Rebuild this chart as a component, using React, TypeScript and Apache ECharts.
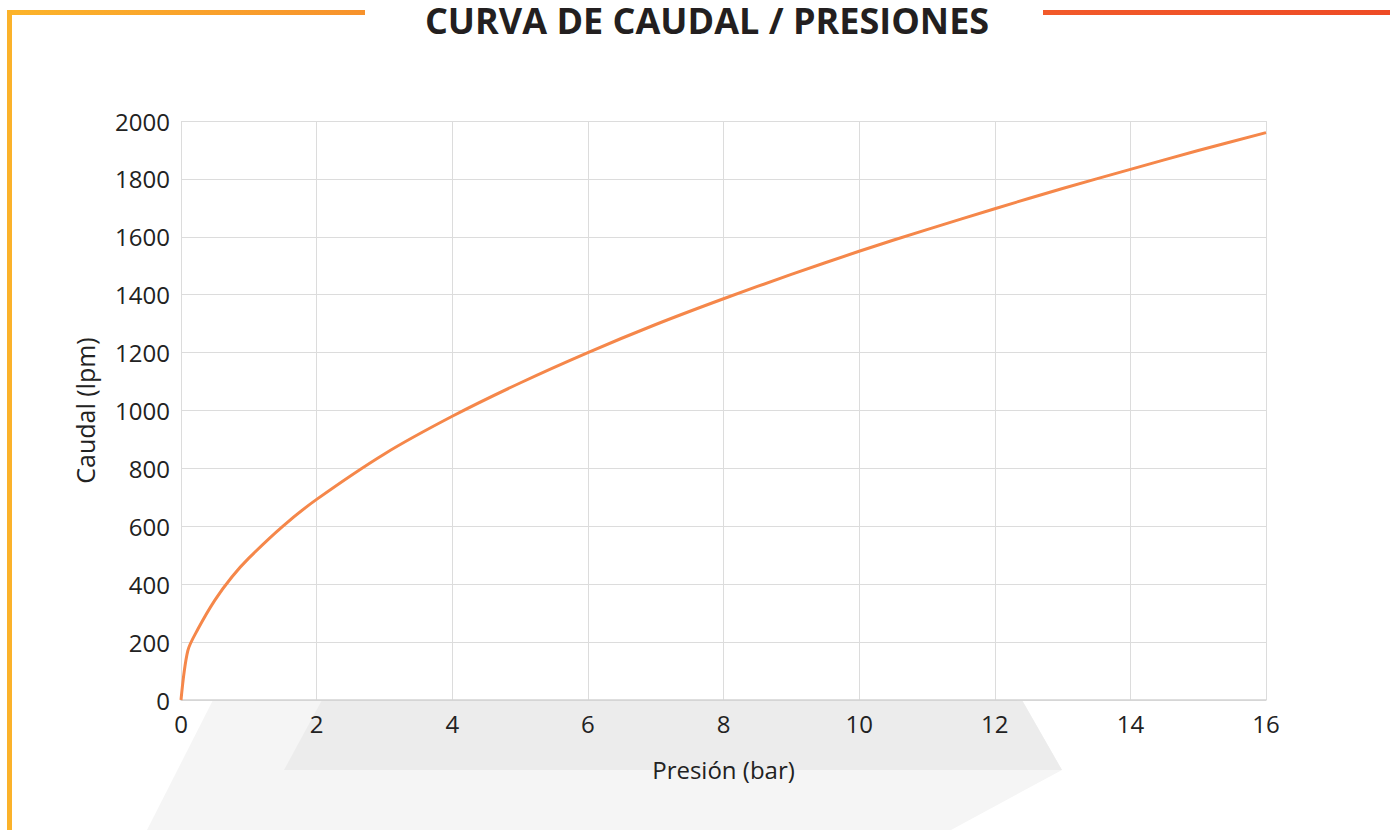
import React, { useEffect, useRef } from "react";
import * as echarts from "echarts";

const titleText = "CURVA DE CAUDAL / PRESIONES";
const xAxisName = "Presión (bar)";
const yAxisName = "Caudal (lpm)";
const pressure = [0, 0.1, 0.25, 0.5, 0.75, 1, 1.5, 2, 3, 4, 5, 6, 7, 8, 9, 10, 11, 12, 13, 14, 15, 16];
const flow = [0, 170, 245, 345, 425, 490, 600, 693, 850, 980, 1095, 1200, 1297, 1386, 1470, 1550, 1625, 1697, 1767, 1833, 1898, 1960];

const FONT = "'Open Sans', 'Noto Sans', sans-serif";

export default function App() {
  const ref = useRef<HTMLDivElement>(null);
  useEffect(() => {
    if (!ref.current) return;
    const chart = echarts.init(ref.current, null, { renderer: "svg" });
    const data = pressure.map((p, i) => [p, flow[i]]);
    chart.setOption({
      animation: false,
      backgroundColor: "#ffffff",
      title: {
        text: titleText,
        left: 707,
        textAlign: "center",
        top: 1,
        padding: 0,
        textStyle: { fontFamily: FONT, fontWeight: "bold", fontSize: 36, lineHeight: 38, color: "#231f20" },
      },
      graphic: [
        {
          type: "polygon",
          z: -10,
          silent: true,
          shape: { points: [[213, 700], [1022, 700], [1062, 770], [951, 830], [147, 830]] },
          style: { fill: "#f5f5f5" },
        },
        {
          type: "polygon",
          z: -9,
          silent: true,
          shape: { points: [[322, 700], [1022, 700], [1062, 770], [284, 770]] },
          style: { fill: "#ececec" },
        },
        {
          type: "rect",
          shape: { x: 7, y: 10, width: 358, height: 5 },
          style: {
            fill: new echarts.graphic.LinearGradient(0, 0, 1, 0, [
              { offset: 0, color: "#fcb42a" },
              { offset: 1, color: "#f7922c" },
            ]),
          },
        },
        {
          type: "rect",
          shape: { x: 7, y: 10, width: 5, height: 820 },
          style: { fill: "#fbb22a" },
        },
        {
          type: "rect",
          shape: { x: 1043, y: 10, width: 347, height: 5 },
          style: {
            fill: new echarts.graphic.LinearGradient(0, 0, 1, 0, [
              { offset: 0, color: "#f25a2a" },
              { offset: 1, color: "#ee4b25" },
            ]),
          },
        },
      ],
      grid: { left: 181, right: 124, top: 121, bottom: 130, containLabel: false },
      xAxis: {
        type: "value",
        min: 0,
        max: 16,
        interval: 2,
        name: xAxisName,
        nameLocation: "middle",
        nameGap: 57,
        nameTextStyle: { fontFamily: FONT, fontSize: 24, color: "#222" },
        axisLine: { show: true, lineStyle: { color: "#d3d3d3", width: 1.5 } },
        axisTick: { show: false },
        axisLabel: { fontFamily: FONT, fontSize: 24, color: "#222", margin: 11, formatter: (v: number) => String(v) },
        splitLine: { show: true, lineStyle: { color: "#dcdcdc", width: 1 } },
      },
      yAxis: {
        type: "value",
        min: 0,
        max: 2000,
        interval: 200,
        name: yAxisName,
        nameLocation: "middle",
        nameGap: 84,
        nameTextStyle: { fontFamily: FONT, fontSize: 25, color: "#222" },
        axisLine: { show: false },
        axisTick: { show: false },
        axisLabel: { fontFamily: FONT, fontSize: 24, color: "#222", margin: 11, formatter: (v: number) => String(v) },
        splitLine: { show: true, lineStyle: { color: "#dcdcdc", width: 1 } },
      },
      series: [
        {
          type: "line",
          data,
          smooth: 0.3,
          showSymbol: false,
          lineStyle: { color: "#f5874a", width: 3 },
        },
      ],
    });
    return () => chart.dispose();
  }, []);
  return <div ref={ref} style={{ width: 1390, height: 830, position: "absolute", left: 0, top: 0 }} />;
}
